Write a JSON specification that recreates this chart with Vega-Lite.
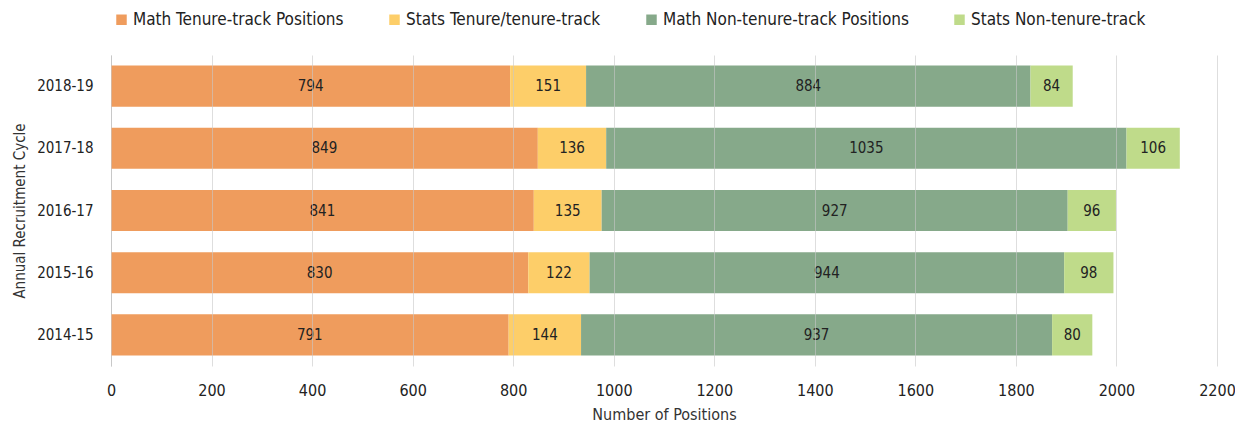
{
  "$schema": "https://vega.github.io/schema/vega-lite/v6.json",
  "autosize": "none",
  "width": 1106,
  "height": 311,
  "padding": {"left": 111, "top": 55, "right": 18, "bottom": 58},
  "background": "white",
  "config": {
    "font": "Liberation Sans Narrow, DejaVu Sans Condensed, Roboto",
    "view": {"stroke": null}
  },
  "data": {
    "values": [
      {"cycle": "2018-19", "series": "Math Tenure-track Positions", "ord": 1, "value": 794},
      {"cycle": "2018-19", "series": "Stats Tenure/tenure-track", "ord": 2, "value": 151},
      {"cycle": "2018-19", "series": "Math Non-tenure-track Positions", "ord": 3, "value": 884},
      {"cycle": "2018-19", "series": "Stats Non-tenure-track", "ord": 4, "value": 84},
      {"cycle": "2017-18", "series": "Math Tenure-track Positions", "ord": 1, "value": 849},
      {"cycle": "2017-18", "series": "Stats Tenure/tenure-track", "ord": 2, "value": 136},
      {"cycle": "2017-18", "series": "Math Non-tenure-track Positions", "ord": 3, "value": 1035},
      {"cycle": "2017-18", "series": "Stats Non-tenure-track", "ord": 4, "value": 106},
      {"cycle": "2016-17", "series": "Math Tenure-track Positions", "ord": 1, "value": 841},
      {"cycle": "2016-17", "series": "Stats Tenure/tenure-track", "ord": 2, "value": 135},
      {"cycle": "2016-17", "series": "Math Non-tenure-track Positions", "ord": 3, "value": 927},
      {"cycle": "2016-17", "series": "Stats Non-tenure-track", "ord": 4, "value": 96},
      {"cycle": "2015-16", "series": "Math Tenure-track Positions", "ord": 1, "value": 830},
      {"cycle": "2015-16", "series": "Stats Tenure/tenure-track", "ord": 2, "value": 122},
      {"cycle": "2015-16", "series": "Math Non-tenure-track Positions", "ord": 3, "value": 944},
      {"cycle": "2015-16", "series": "Stats Non-tenure-track", "ord": 4, "value": 98},
      {"cycle": "2014-15", "series": "Math Tenure-track Positions", "ord": 1, "value": 791},
      {"cycle": "2014-15", "series": "Stats Tenure/tenure-track", "ord": 2, "value": 144},
      {"cycle": "2014-15", "series": "Math Non-tenure-track Positions", "ord": 3, "value": 937},
      {"cycle": "2014-15", "series": "Stats Non-tenure-track", "ord": 4, "value": 80}
    ]
  },
  "encoding": {
    "y": {
      "field": "cycle", "type": "nominal", "sort": "descending",
      "scale": {"paddingInner": 0.34, "paddingOuter": 0.17},
      "axis": {
        "title": "Annual Recruitment Cycle", "titleFontSize": 15, "titleFontWeight": "normal",
        "titleColor": "#333", "titlePadding": 9,
        "labelFontSize": 15, "labelColor": "#222", "labelPadding": 18,
        "ticks": false, "domain": true, "domainColor": "#c8c8c8", "grid": false
      }
    },
    "x": {
      "field": "value", "type": "quantitative", "stack": "zero",
      "scale": {"domain": [0, 2200], "nice": false},
      "axis": {
        "title": "Number of Positions", "titleFontSize": 16, "titleFontWeight": "normal",
        "titleColor": "#333", "titlePadding": 8, "format": "d", "labelFlush": false,
        "values": [0,200,400,600,800,1000,1200,1400,1600,1800,2000,2200],
        "labelFontSize": 16, "labelColor": "#222", "labelPadding": 16,
        "ticks": false, "domain": false, "grid": true,
        "gridColor": "#c8c8c8", "gridOpacity": 0.6, "zindex": 1
      }
    },
    "order": {"field": "ord", "type": "quantitative"}
  },
  "layer": [
    {
      "mark": {"type": "bar"},
      "encoding": {
        "color": {
          "field": "series", "type": "nominal",
          "scale": {
            "domain": ["Math Tenure-track Positions", "Stats Tenure/tenure-track", "Math Non-tenure-track Positions", "Stats Non-tenure-track"],
            "range": ["#EF9C5D", "#FDCE69", "#86A98A", "#BFDB8A"]
          },
          "legend": {
            "title": null, "orient": "none", "direction": "horizontal",
            "legendX": 2, "legendY": -44, "labelLimit": 0,
            "symbolType": "square", "symbolSize": 110, "symbolStrokeWidth": 0,
            "labelFontSize": 17, "labelColor": "#222", "columnPadding": 42, "labelOffset": 3
          }
        }
      }
    },
    {
      "mark": {"type": "text", "fontSize": 15, "color": "#222", "align": "center", "baseline": "middle"},
      "encoding": {
        "x": {"field": "value", "type": "quantitative", "stack": "zero", "bandPosition": 0.5},
        "text": {"field": "value", "type": "quantitative"}
      }
    }
  ]
}
